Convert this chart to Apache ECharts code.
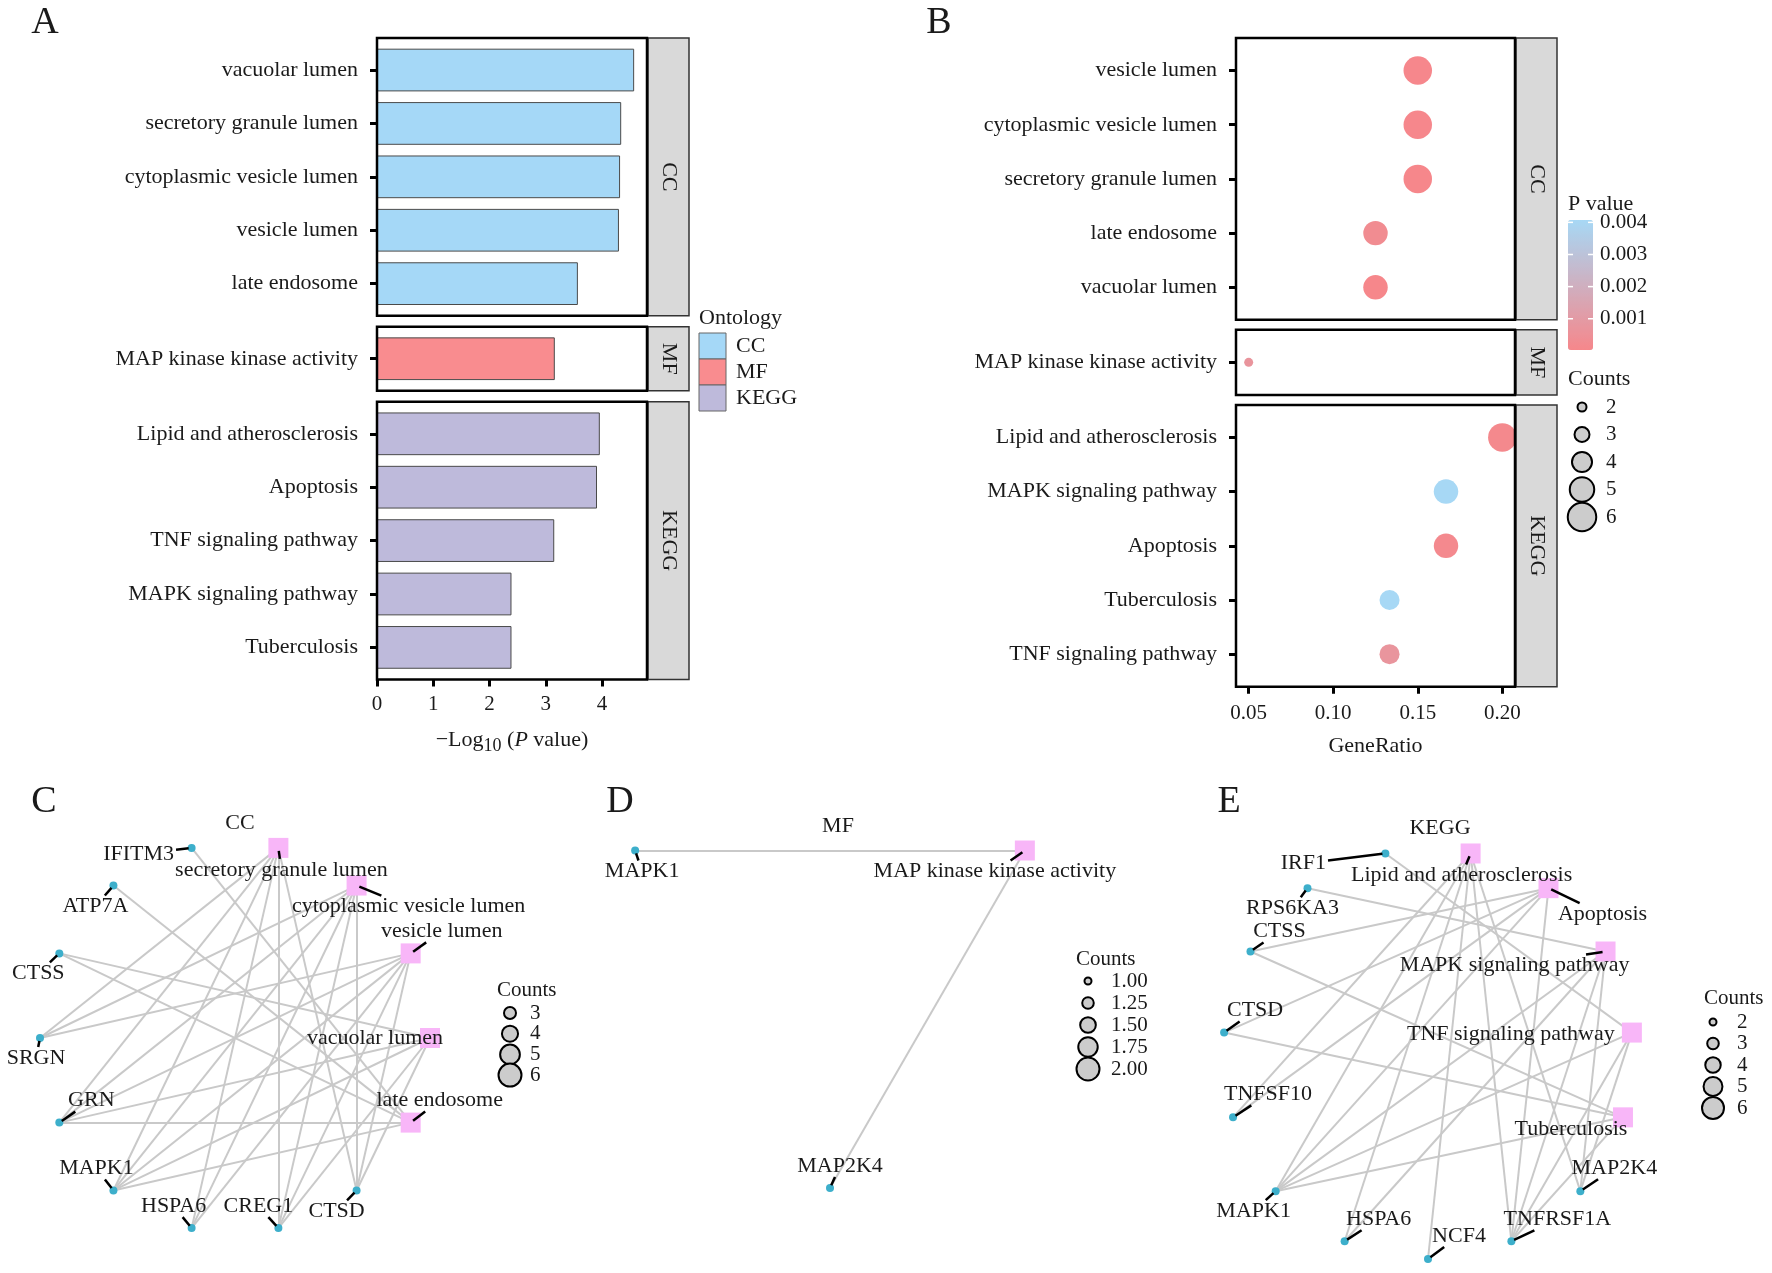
<!DOCTYPE html>
<html>
<head>
<meta charset="utf-8">
<script src="https://cdn.jsdelivr.net/npm/echarts@6.0.0/dist/echarts.min.js"></script>
<style>html,body{margin:0;padding:0;background:#fff;}#chart{width:1772px;height:1273px;}</style>
</head>
<body>
<div id="chart"></div>
<script>
// ================= DATA =================
// Panel A : -log10(P value) bars
const ccTerms = ['vacuolar lumen', 'secretory granule lumen', 'cytoplasmic vesicle lumen', 'vesicle lumen', 'late endosome'];
const ccNegLogP = [4.57, 4.34, 4.32, 4.30, 3.57];
const mfTerms = ['MAP kinase kinase activity'];
const mfNegLogP = [3.16];
const keggTerms = ['Lipid and atherosclerosis', 'Apoptosis', 'TNF signaling pathway', 'MAPK signaling pathway', 'Tuberculosis'];
const keggNegLogP = [3.96, 3.91, 3.15, 2.39, 2.39];
const barTicks = [0, 1, 2, 3, 4];
const ontologyNames = ['CC', 'MF', 'KEGG'];

// Panel B : GeneRatio dot plot
const ccTermsB = ['vesicle lumen', 'cytoplasmic vesicle lumen', 'secretory granule lumen', 'late endosome', 'vacuolar lumen'];
const ccGeneRatio = [0.15, 0.15, 0.15, 0.125, 0.125];
const ccCounts = [6, 6, 6, 5, 5];
const mfTermsB = ['MAP kinase kinase activity'];
const mfGeneRatio = [0.05];
const mfCounts = [2];
const keggTermsB = ['Lipid and atherosclerosis', 'MAPK signaling pathway', 'Apoptosis', 'Tuberculosis', 'TNF signaling pathway'];
const keggGeneRatio = [0.2, 0.1667, 0.1667, 0.1333, 0.1333];
const keggCounts = [6, 5, 5, 4, 4];
const ratioTicks = [0.05, 0.10, 0.15, 0.20];
const pValueTicks = [0.001, 0.002, 0.003, 0.004];
const countBreaksB = [2, 3, 4, 5, 6];

// Panel C : CC network (circle order, clockwise)
const netCCOrder = ['vacuolar lumen', 'late endosome', 'CTSD', 'CREG1', 'HSPA6', 'MAPK1', 'GRN', 'SRGN', 'CTSS', 'ATP7A', 'IFITM3', 'secretory granule lumen', 'cytoplasmic vesicle lumen', 'vesicle lumen'];
const netCCTerms = ['secretory granule lumen', 'cytoplasmic vesicle lumen', 'vesicle lumen', 'late endosome', 'vacuolar lumen'];
const netCCLinks = [
  ['secretory granule lumen', 'SRGN'], ['secretory granule lumen', 'GRN'], ['secretory granule lumen', 'MAPK1'], ['secretory granule lumen', 'HSPA6'], ['secretory granule lumen', 'CREG1'], ['secretory granule lumen', 'CTSD'],
  ['cytoplasmic vesicle lumen', 'SRGN'], ['cytoplasmic vesicle lumen', 'GRN'], ['cytoplasmic vesicle lumen', 'MAPK1'], ['cytoplasmic vesicle lumen', 'HSPA6'], ['cytoplasmic vesicle lumen', 'CREG1'], ['cytoplasmic vesicle lumen', 'CTSD'],
  ['vesicle lumen', 'SRGN'], ['vesicle lumen', 'GRN'], ['vesicle lumen', 'MAPK1'], ['vesicle lumen', 'HSPA6'], ['vesicle lumen', 'CREG1'], ['vesicle lumen', 'CTSD'],
  ['late endosome', 'IFITM3'], ['late endosome', 'ATP7A'], ['late endosome', 'CTSS'], ['late endosome', 'GRN'], ['late endosome', 'MAPK1'],
  ['vacuolar lumen', 'CTSS'], ['vacuolar lumen', 'GRN'], ['vacuolar lumen', 'MAPK1'], ['vacuolar lumen', 'CREG1'], ['vacuolar lumen', 'CTSD']
];
const netCCCountBreaks = [3, 4, 5, 6];

// Panel D : MF network
const netMFOrder = ['MAP2K4', 'MAPK1', 'MAP kinase kinase activity'];
const netMFTerms = ['MAP kinase kinase activity'];
const netMFLinks = [['MAP kinase kinase activity', 'MAPK1'], ['MAP kinase kinase activity', 'MAP2K4']];
const netMFCountBreaks = [1.00, 1.25, 1.50, 1.75, 2.00];

// Panel E : KEGG network
const netKEGGOrder = ['NCF4', 'HSPA6', 'MAPK1', 'TNFSF10', 'CTSD', 'CTSS', 'RPS6KA3', 'IRF1', 'Lipid and atherosclerosis', 'Apoptosis', 'MAPK signaling pathway', 'TNF signaling pathway', 'Tuberculosis', 'MAP2K4', 'TNFRSF1A'];
const netKEGGTerms = ['Lipid and atherosclerosis', 'Apoptosis', 'MAPK signaling pathway', 'TNF signaling pathway', 'Tuberculosis'];
const netKEGGLinks = [
  ['Lipid and atherosclerosis', 'MAPK1'], ['Lipid and atherosclerosis', 'HSPA6'], ['Lipid and atherosclerosis', 'NCF4'], ['Lipid and atherosclerosis', 'TNFRSF1A'], ['Lipid and atherosclerosis', 'MAP2K4'], ['Lipid and atherosclerosis', 'TNFSF10'],
  ['Apoptosis', 'CTSS'], ['Apoptosis', 'CTSD'], ['Apoptosis', 'MAPK1'], ['Apoptosis', 'TNFRSF1A'], ['Apoptosis', 'TNFSF10'],
  ['MAPK signaling pathway', 'MAPK1'], ['MAPK signaling pathway', 'HSPA6'], ['MAPK signaling pathway', 'RPS6KA3'], ['MAPK signaling pathway', 'TNFRSF1A'], ['MAPK signaling pathway', 'MAP2K4'],
  ['TNF signaling pathway', 'MAPK1'], ['TNF signaling pathway', 'IRF1'], ['TNF signaling pathway', 'TNFRSF1A'], ['TNF signaling pathway', 'MAP2K4'],
  ['Tuberculosis', 'CTSS'], ['Tuberculosis', 'CTSD'], ['Tuberculosis', 'MAPK1'], ['Tuberculosis', 'TNFRSF1A']
];
const netKEGGCountBreaks = [2, 3, 4, 5, 6];

// ================= STYLE / LAYOUT =================
const FONT = '"Liberation Serif", "Times New Roman", Times, serif';
const TXT = '#1a1a1a';
const ontColors = ['#A5D8F7', '#F98C8F', '#BEBADB'];
const pColors = ['#F6878B', '#A7D8F5'];
const layA = {left: 377, right: 647, top: 38, unit: 53.4, gap: 11, stripW: 41};
const layB = {left: 1236, right: 1515, top: 38, unit: 54.2, gap: 10, stripW: 41};

const labelOffsetsCC = {
  'IFITM3': [-53, 6], 'secretory granule lumen': [3, 22], 'ATP7A': [-18, 21], 'cytoplasmic vesicle lumen': [52, 21],
  'CTSS': [-21, 20], 'vesicle lumen': [31, -22], 'SRGN': [-4, 20], 'vacuolar lumen': [-55, 0], 'GRN': [32, -22],
  'late endosome': [29, -22], 'MAPK1': [-17, -22], 'HSPA6': [-18, -22], 'CREG1': [-20, -22], 'CTSD': [-20, 21]
};
const labelOffsetsMF = {'MAPK1': [7, 21], 'MAP kinase kinase activity': [-30, 21], 'MAP2K4': [10, -22]};
const labelOffsetsKEGG = {
  'IRF1': [-82, 10], 'Lipid and atherosclerosis': [-9, 22], 'RPS6KA3': [-15, 20], 'Apoptosis': [54, 26], 'CTSS': [29, -20],
  'MAPK signaling pathway': [-91, 14], 'CTSD': [31, -22], 'TNF signaling pathway': [-121, 2], 'TNFSF10': [35, -23],
  'Tuberculosis': [-52, 12], 'MAPK1': [-22, 20], 'MAP2K4': [34, -23], 'HSPA6': [34, -22], 'NCF4': [31, -23], 'TNFRSF1A': [46, -22]
};

function sqrtSize(c, cmin, cmax, dmin, dmax) {
  return dmin + (Math.sqrt(c) - Math.sqrt(cmin)) / (Math.sqrt(cmax) - Math.sqrt(cmin)) * (dmax - dmin);
}
function facetLayout(cfg, ns) {
  let y = cfg.top;
  return ns.map(n => {
    const h = (n + 0.2) * cfg.unit;
    const r = {frameTop: y, frameH: h, innerTop: y + 0.1 * cfg.unit, innerH: n * cfg.unit};
    y += h + cfg.gap;
    return r;
  });
}

const chart = echarts.init(document.getElementById('chart'), null, {renderer: 'canvas', width: 1772, height: 1273});
const grid = [], xAxis = [], yAxis = [], series = [], G = [];

function gText(x, y, s, o) {
  o = o || {};
  G.push({type: 'text', x: x, y: y, rotation: o.rot || 0, silent: true, z: 100,
    style: {text: s, fontSize: o.size || 22, fontFamily: FONT, fill: o.color || TXT,
      align: o.align || 'left', verticalAlign: 'middle', fontStyle: o.italic ? 'italic' : 'normal'}});
}
function gRect(x, y, w, h, fill, stroke, lw, z) {
  G.push({type: 'rect', silent: true, z: z || 90, shape: {x: x, y: y, width: w, height: h},
    style: {fill: fill, stroke: stroke, lineWidth: lw}});
}
function gCircle(cx, cy, r, fill, stroke, lw) {
  G.push({type: 'circle', silent: true, z: 95, shape: {cx: cx, cy: cy, r: r}, style: {fill: fill, stroke: stroke, lineWidth: lw}});
}
function gLine(x1, y1, x2, y2, color, lw, z) {
  G.push({type: 'line', silent: true, z: z || 96, shape: {x1: x1, y1: y1, x2: x2, y2: y2}, style: {stroke: color, lineWidth: lw}});
}

const tickLabelStyle = {fontSize: 21, fontFamily: FONT, color: TXT};
const yLabelStyle = {fontSize: 22, fontFamily: FONT, color: TXT, margin: 19};
const yTickStyle = {show: true, alignWithLabel: true, length: 7, lineStyle: {color: '#000', width: 3}};

// ================= PANEL A =================
const facetsA = [
  {terms: ccTerms, vals: ccNegLogP},
  {terms: mfTerms, vals: mfNegLogP},
  {terms: keggTerms, vals: keggNegLogP}
];
const boxesA = facetLayout(layA, facetsA.map(f => f.terms.length));
const maxA = Math.max.apply(null, ccNegLogP.concat(mfNegLogP, keggNegLogP)) * 1.05;
const nameA = '{t|\u2212Log}{s|10}{t| (}{i|P}{t| value)}';
const richA = {
  t: {fontSize: 22, fontFamily: FONT, color: TXT, lineHeight: 30, verticalAlign: 'middle'},
  s: {fontSize: 18, fontFamily: FONT, color: TXT, lineHeight: 18, verticalAlign: 'bottom'},
  i: {fontSize: 22, fontFamily: FONT, color: TXT, lineHeight: 30, verticalAlign: 'middle', fontStyle: 'italic'}
};
facetsA.forEach((f, i) => {
  const b = boxesA[i], last = i === facetsA.length - 1, g = grid.length;
  grid.push({left: layA.left, top: b.innerTop, width: layA.right - layA.left, height: b.innerH, outerBoundsMode: 'none'});
  xAxis.push({gridIndex: g, type: 'value', min: 0, max: maxA, offset: last ? 0.1 * layA.unit : 0,
    axisLine: {show: false}, splitLine: {show: false},
    axisTick: {show: last, customValues: barTicks, length: 7, lineStyle: {color: '#000', width: 3}},
    axisLabel: Object.assign({show: last, customValues: barTicks, margin: 15}, tickLabelStyle),
    name: last ? nameA : '', nameLocation: 'middle', nameGap: 46, nameTextStyle: {rich: richA}});
  yAxis.push({gridIndex: g, type: 'category', data: f.terms, inverse: true, axisLine: {show: false},
    axisTick: yTickStyle, axisLabel: yLabelStyle, splitLine: {show: false}});
  series.push({type: 'bar', xAxisIndex: g, yAxisIndex: g, data: f.vals, barWidth: '80%', silent: true,
    itemStyle: {color: ontColors[i], borderColor: '#4a4a4a', borderWidth: 1}});
  gRect(layA.left, b.frameTop, layA.right - layA.left, b.frameH, 'none', '#000', 2.5, 92);
  gRect(layA.right + 1, b.frameTop, layA.stripW, b.frameH, '#D9D9D9', '#333', 1.5, 91);
  gText(layA.right + 1 + layA.stripW / 2, b.frameTop + b.frameH / 2, ontologyNames[i], {align: 'center', rot: -Math.PI / 2});
});
// Ontology legend
gText(699, 318, 'Ontology');
ontologyNames.forEach((n, i) => {
  gRect(699, 333 + i * 26, 27, 26, ontColors[i], '#666', 1, 93);
  gText(736, 333 + i * 26 + 13, n);
});

// ================= PANEL B =================
const negLogPByTerm = {};
[[ccTerms, ccNegLogP], [mfTerms, mfNegLogP], [keggTerms, keggNegLogP]].forEach(([t, v]) => t.forEach((n, k) => { negLogPByTerm[n] = v[k]; }));
const pOf = t => Math.pow(10, -negLogPByTerm[t]);
const facetsB = [
  {terms: ccTermsB, ratio: ccGeneRatio, counts: ccCounts},
  {terms: mfTermsB, ratio: mfGeneRatio, counts: mfCounts},
  {terms: keggTermsB, ratio: keggGeneRatio, counts: keggCounts}
];
const allRatio = ccGeneRatio.concat(mfGeneRatio, keggGeneRatio);
const rMin = Math.min.apply(null, allRatio), rMax = Math.max.apply(null, allRatio);
const minB = rMin - 0.05 * (rMax - rMin), maxB = rMax + 0.05 * (rMax - rMin);
const allP = ccTermsB.concat(mfTermsB, keggTermsB).map(pOf);
const pMin = Math.min.apply(null, allP), pMax = Math.max.apply(null, allP);
const sizeB = c => sqrtSize(c, 2, 6, 9, 28.5);
const boxesB = facetLayout(layB, facetsB.map(f => f.terms.length));
const scatterIdx = [];
facetsB.forEach((f, i) => {
  const b = boxesB[i], last = i === facetsB.length - 1, g = grid.length;
  grid.push({left: layB.left, top: b.innerTop, width: layB.right - layB.left, height: b.innerH, outerBoundsMode: 'none'});
  xAxis.push({gridIndex: g, type: 'value', min: minB, max: maxB, offset: last ? 0.1 * layB.unit : 0,
    axisLine: {show: false}, splitLine: {show: false},
    axisTick: {show: last, customValues: ratioTicks, length: 7, lineStyle: {color: '#000', width: 3}},
    axisLabel: Object.assign({show: last, customValues: ratioTicks, margin: 16, formatter: v => v.toFixed(2)}, tickLabelStyle),
    name: last ? 'GeneRatio' : '', nameLocation: 'middle', nameGap: 46,
    nameTextStyle: {fontSize: 22, fontFamily: FONT, color: TXT, lineHeight: 26}});
  yAxis.push({gridIndex: g, type: 'category', data: f.terms, inverse: true, axisLine: {show: false},
    axisTick: yTickStyle, axisLabel: yLabelStyle, splitLine: {show: false}});
  scatterIdx.push(series.length);
  series.push({type: 'scatter', xAxisIndex: g, yAxisIndex: g, silent: true,
    data: f.terms.map((t, k) => [f.ratio[k], t, f.counts[k], pOf(t)]),
    symbolSize: v => sizeB(v[2]), itemStyle: {opacity: 1}});
  gRect(layB.left, b.frameTop, layB.right - layB.left, b.frameH, 'none', '#000', 2.5, 92);
  gRect(layB.right + 1, b.frameTop, layB.stripW, b.frameH, '#D9D9D9', '#333', 1.5, 91);
  gText(layB.right + 1 + layB.stripW / 2, b.frameTop + b.frameH / 2, ontologyNames[i], {align: 'center', rot: -Math.PI / 2});
});
// P value colourbar labels and ticks
const cbar = {left: 1568, top: 220, w: 25, h: 130};
gText(1568, 204, 'P value');
pValueTicks.forEach(v => {
  const y = cbar.top + (pMax - v) / (pMax - pMin) * cbar.h;
  gLine(cbar.left, y, cbar.left + 5, y, '#fff', 1.5);
  gLine(cbar.left + cbar.w - 5, y, cbar.left + cbar.w, y, '#fff', 1.5);
  gText(1600, y, v.toFixed(3), {size: 21});
});
// Counts legend B
gText(1568, 379, 'Counts');
countBreaksB.forEach((c, i) => {
  const y = 407 + i * 27.5;
  gCircle(1582, y, sizeB(c) / 2, '#CCCCCC', '#000', 2);
  gText(1606, y, String(c), {size: 21});
});

// ================= NETWORKS =================
const nets = [
  {order: netCCOrder, terms: netCCTerms, links: netCCLinks, start: 0, box: {left: 40, top: 843, size: 390}, labels: labelOffsetsCC,
   title: 'CC', titlePos: [240, 823], letter: 'C', letterPos: [44, 802],
   legend: {breaks: netCCCountBreaks, title: [497, 990], y0: 1013, dy: 20.7, cx: 510, lx: 530, size: c => sqrtSize(c, 3, 6, 12, 23), fmt: c => String(c)}},
  {order: netMFOrder, terms: netMFTerms, links: netMFLinks, start: 90, box: {left: 605, top: 738, size: 450}, labels: labelOffsetsMF,
   title: 'MF', titlePos: [838, 826], letter: 'D', letterPos: [620, 802],
   legend: {breaks: netMFCountBreaks, title: [1076, 959], y0: 981, dy: 22, cx: 1088, lx: 1111, size: c => sqrtSize(c, 1, 2, 7, 23), fmt: c => c.toFixed(2)}},
  {order: netKEGGOrder, terms: netKEGGTerms, links: netKEGGLinks, start: 90, box: {left: 1223, top: 849, size: 410}, labels: labelOffsetsKEGG,
   title: 'KEGG', titlePos: [1440, 828], letter: 'E', letterPos: [1229, 802],
   legend: {breaks: netKEGGCountBreaks, title: [1704, 998], y0: 1022, dy: 21.5, cx: 1713, lx: 1737, size: c => sqrtSize(c, 2, 6, 7, 22), fmt: c => String(c)}}
];
nets.forEach(net => {
  const g = grid.length;
  net.grid = g;
  grid.push({left: net.box.left, top: net.box.top, width: net.box.size, height: net.box.size, outerBoundsMode: 'none'});
  xAxis.push({gridIndex: g, type: 'value', min: -1, max: 1, show: false});
  yAxis.push({gridIndex: g, type: 'value', min: -1, max: 1, show: false});
  const n = net.order.length;
  net.nodes = net.order.map((name, i) => {
    const a = (net.start + i * 360 / n) * Math.PI / 180;
    const isTerm = net.terms.indexOf(name) >= 0;
    return {name: name, value: [Math.cos(a), -Math.sin(a)], symbol: isTerm ? 'rect' : 'circle', symbolSize: isTerm ? 20 : 8,
      itemStyle: {color: isTerm ? '#F8B6F8' : '#3DAFCB'},
      label: {show: true, position: 'inside', offset: net.labels[name], fontSize: 22, fontFamily: FONT, color: TXT}};
  });
  series.push({type: 'graph', coordinateSystem: 'cartesian2d', xAxisIndex: g, yAxisIndex: g, layout: 'none', silent: true,
    data: net.nodes, links: net.links.map(l => ({source: l[0], target: l[1]})),
    lineStyle: {color: '#C9C9C9', width: 2, opacity: 1, curveness: 0}, emphasis: {disabled: true}, z: 2});
  gText(net.titlePos[0], net.titlePos[1], net.title, {align: 'center'});
  gText(net.letterPos[0], net.letterPos[1], net.letter, {align: 'center', size: 38});
  const lg = net.legend;
  gText(lg.title[0], lg.title[1], 'Counts', {size: 21});
  lg.breaks.forEach((c, i) => {
    const y = lg.y0 + i * lg.dy;
    gCircle(lg.cx, y, lg.size(c) / 2, '#CCCCCC', '#000', 2);
    gText(lg.lx, y, lg.fmt(c), {size: 21});
  });
});
gText(45, 23, 'A', {align: 'center', size: 38});
gText(939, 23, 'B', {align: 'center', size: 38});

const option = {
  animation: false,
  backgroundColor: '#ffffff',
  textStyle: {fontFamily: FONT},
  grid: grid, xAxis: xAxis, yAxis: yAxis, series: series,
  visualMap: [{type: 'continuous', seriesIndex: scatterIdx, dimension: 3, min: pMin, max: pMax,
    inRange: {color: pColors}, left: cbar.left, top: cbar.top, itemWidth: cbar.w, itemHeight: cbar.h,
    calculable: false, padding: 0, orient: 'vertical', text: null, hoverLink: false}],
  graphic: {elements: G}
};
chart.setOption(option);

// label connector segments (ggrepel style), positioned via the library's coordinate conversion
const ctx = document.createElement('canvas').getContext('2d');
ctx.font = '22px ' + FONT;
const segs = [];
nets.forEach(net => {
  net.nodes.forEach(nd => {
    const p = chart.convertToPixel({gridIndex: net.grid}, nd.value);
    const off = nd.label.offset;
    const dx = off[0], dy = off[1];
    const hw = ctx.measureText(nd.name).width / 2 + 2, hh = 11;
    const t = Math.min(hw / Math.max(Math.abs(dx), 1e-6), hh / Math.max(Math.abs(dy), 1e-6));
    if (t >= 0.85) return;
    const len = Math.hypot(dx, dy);
    const sx = p[0] + dx / len * 3, sy = p[1] + dy / len * 3;
    const ex = p[0] + (1 - t) * dx, ey = p[1] + (1 - t) * dy;
    segs.push({type: 'line', silent: true, z: 97, shape: {x1: sx, y1: sy, x2: ex, y2: ey}, style: {stroke: '#000', lineWidth: 2.5}});
  });
});
chart.setOption({graphic: {elements: G.concat(segs)}});
</script>
</body>
</html>
